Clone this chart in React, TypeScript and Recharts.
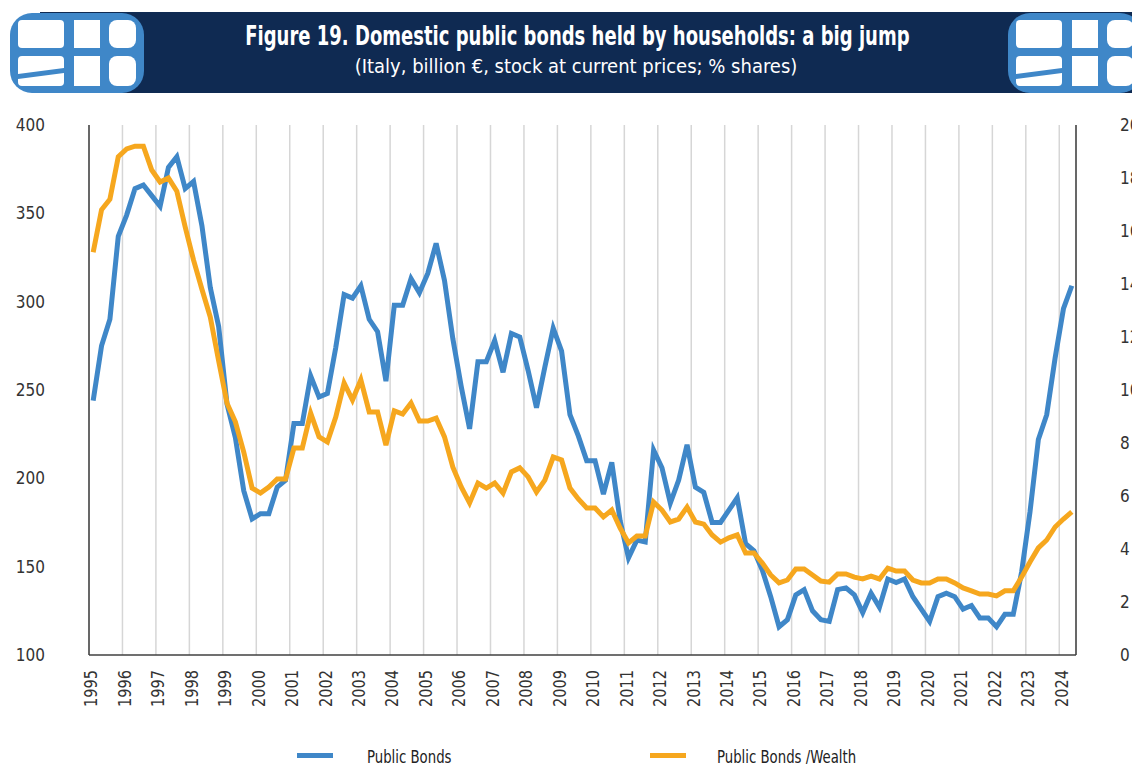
import React from "react";
import { LineChart, Line, XAxis, YAxis, CartesianGrid } from "recharts";

// quarterly, 1995Q1 .. 2024Q2
const years: number[] = [
  1995, 1996, 1997, 1998, 1999, 2000, 2001, 2002, 2003, 2004, 2005, 2006, 2007, 2008, 2009,
  2010, 2011, 2012, 2013, 2014, 2015, 2016, 2017, 2018, 2019, 2020, 2021, 2022, 2023, 2024,
];

// Public bonds held by households, billion € (left axis)
const publicBonds: number[] = [
  244, 275, 290, 337, 349, 364, 366, 360, 354, 376, 382, 364, 368, 343, 308, 286,
  242, 223, 193, 177, 180, 180, 195, 199, 231, 231, 258, 246, 248, 274, 304, 302,
  309, 290, 283, 255, 298, 298, 313, 305, 316, 333, 312, 279, 252, 228, 266, 266,
  278, 260, 282, 280, 261, 240, 263, 285, 272, 236, 224, 210, 210, 191, 209, 176,
  155, 165, 164, 216, 206, 186, 199, 219, 195, 192, 175, 175, 182, 189, 163, 159,
  148, 133, 116, 120, 134, 137, 125, 120, 119, 137, 138, 134, 124, 135, 127, 143,
  141, 143, 133, 126, 119, 133, 135, 133, 126, 128, 121, 121, 116, 123, 123, 147,
  181, 222, 236, 268, 296, 309,
];

// Public bonds / wealth, % (right axis)
const bondsOnWealth: number[] = [
  15.2, 16.8, 17.2, 18.8, 19.1, 19.2, 19.2, 18.3, 17.85, 18.0, 17.5, 16.15, 14.9, 13.8, 12.75, 11.1,
  9.5, 8.8, 7.66, 6.3, 6.11, 6.34, 6.64, 6.64, 7.81, 7.81, 9.13, 8.23, 8.04, 8.98, 10.26, 9.62,
  10.38, 9.17, 9.17, 7.92, 9.21, 9.09, 9.51, 8.83, 8.83, 8.94, 8.23, 7.09, 6.34, 5.74, 6.49, 6.3,
  6.49, 6.11, 6.91, 7.06, 6.72, 6.15, 6.6, 7.47, 7.36, 6.3, 5.89, 5.55, 5.55, 5.21, 5.47, 4.79,
  4.23, 4.49, 4.49, 5.77, 5.47, 5.02, 5.13, 5.58, 5.02, 4.94, 4.53, 4.26, 4.42, 4.53, 3.85, 3.85,
  3.47, 3.02, 2.72, 2.83, 3.25, 3.25, 3.02, 2.79, 2.75, 3.06, 3.06, 2.94, 2.87, 2.98, 2.87, 3.28,
  3.17, 3.17, 2.83, 2.72, 2.72, 2.87, 2.87, 2.72, 2.53, 2.42, 2.3, 2.3, 2.23, 2.42, 2.42, 2.94,
  3.51, 4.04, 4.34, 4.83, 5.13, 5.4,
];

const leftTicks = [100, 150, 200, 250, 300, 350, 400];
const rightTicks = [0, 2, 4, 6, 8, 10, 12, 14, 16, 18, 20];

const BLUE = "#3f87c8";
const ORANGE = "#f6a71e";
const NAVY = "#0f2a52";
const FONT = "'DejaVu Sans Condensed', 'DejaVu Sans', sans-serif";

const data = publicBonds.map((v, i) => ({ i, bonds: v, share: bondsOnWealth[i] }));
// year boundaries sit between Q4 and Q1
const yearTicks = years.map((_, k) => k * 4 - 0.5);

const YearTick = (props: { x?: number; y?: number; payload?: { value: number } }) => {
  const { x = 0, y = 0, payload } = props;
  const k = Math.round(((payload?.value ?? 0) + 0.5) / 4);
  return (
    <g transform={`translate(${x + 2},${y + 13})`}>
      <text transform="rotate(-90) scale(0.9,1)" textAnchor="end" dy="0.35em" fontSize={18} fill="#333" fontFamily={FONT}>
        {years[k]}
      </text>
    </g>
  );
};

const Logo: React.FC<{ left: number }> = ({ left }) => (
  <svg width={138} height={84} style={{ position: "absolute", left, top: 11 }} viewBox="0 0 138 84">
    <rect x={2} y={2} width={134} height={80} rx={22} fill={BLUE} />
    <rect x={10} y={9} width={46} height={28} rx={4} fill="#fff" />
    <rect x={10} y={45} width={46} height={30} rx={4} fill="#fff" />
    <polygon points="10,63 56,57 56,62 10,68" fill={BLUE} />
    <rect x={66} y={9} width={26} height={66} fill="#fff" />
    <rect x={101} y={9} width={27} height={28} rx={8} fill="#fff" />
    <rect x={101} y={45} width={27} height={30} rx={8} fill="#fff" />
    <rect x={66} y={37} width={62} height={8} fill={BLUE} />
  </svg>
);

const LegendItem: React.FC<{ color: string; label: string; left: number; textLeft: number }> = ({
  color,
  label,
  left,
  textLeft,
}) => (
  <>
    <div style={{ position: "absolute", left, top: 753, width: 36, height: 5, background: color }} />
    <div
      style={{
        position: "absolute",
        left: textLeft,
        top: 746,
        fontFamily: FONT,
        fontSize: 18,
        color: "#222",
        whiteSpace: "nowrap",
        transform: "scaleX(0.82)",
        transformOrigin: "left center",
      }}
    >
      {label}
    </div>
  </>
);

export default function App() {
  return (
    <div
      style={{
        position: "absolute",
        left: 0,
        top: 0,
        width: 1132,
        height: 764,
        overflow: "hidden",
        background: "#fff",
      }}
    >
      {/* header banner */}
      <div style={{ position: "absolute", left: 40, top: 12, width: 1092, height: 81, background: NAVY }} />
      <Logo left={8} />
      <Logo left={1006} />
      <div
        style={{
          position: "absolute",
          left: 0,
          width: 1154,
          top: 21,
          textAlign: "center",
          color: "#fff",
          fontFamily: FONT,
          fontWeight: 700,
          fontSize: 26,
        }}
      >
        <span style={{ display: "inline-block", transform: "scaleX(0.77)", transformOrigin: "center" }}>
          Figure 19. Domestic public bonds held by households: a big jump
        </span>
      </div>
      <div
        style={{
          position: "absolute",
          left: 0,
          width: 1152,
          top: 54,
          textAlign: "center",
          color: "#fff",
          fontFamily: FONT,
          fontSize: 20,
        }}
      >
        (Italy, billion €, stock at current prices; % shares)
      </div>

      <div style={{ position: "absolute", left: 0, top: 0 }}>
        <LineChart width={1160} height={764} data={data} margin={{ top: 125, right: 24, left: 0, bottom: 49 }}>
          <CartesianGrid horizontal={false} stroke="#d6d6d6" strokeWidth={1.5} />
          <XAxis
            dataKey="i"
            type="number"
            domain={[-0.5, 117.5]}
            ticks={yearTicks}
            interval={0}
            height={60}
            tickLine={false}
            tickSize={0}
            axisLine={{ stroke: "#404040", strokeWidth: 1.5 }}
            tick={(p: any) => <YearTick {...p} />}
          />
          <YAxis
            yAxisId="left"
            width={89}
            domain={[100, 400]}
            ticks={leftTicks}
            tickLine={false}
            tickSize={0}
            tickMargin={44}
            axisLine={{ stroke: "#404040", strokeWidth: 1.5 }}
            tick={{ fontSize: 17, fill: "#333", fontFamily: FONT }}
          />
          <YAxis
            yAxisId="right"
            orientation="right"
            width={60}
            domain={[0, 20]}
            ticks={rightTicks}
            tickLine={false}
            tickSize={0}
            tickMargin={44}
            axisLine={{ stroke: "#404040", strokeWidth: 1.5 }}
            tick={{ fontSize: 17, fill: "#333", fontFamily: FONT }}
          />
          <Line
            yAxisId="left"
            dataKey="bonds"
            type="linear"
            stroke={BLUE}
            strokeWidth={5}
            dot={false}
            isAnimationActive={false}
          />
          <Line
            yAxisId="right"
            dataKey="share"
            type="linear"
            stroke={ORANGE}
            strokeWidth={5}
            dot={false}
            isAnimationActive={false}
          />
        </LineChart>
      </div>

      <LegendItem color={BLUE} label="Public Bonds" left={297} textLeft={367} />
      <LegendItem color={ORANGE} label="Public Bonds /Wealth" left={650} textLeft={717} />
    </div>
  );
}
